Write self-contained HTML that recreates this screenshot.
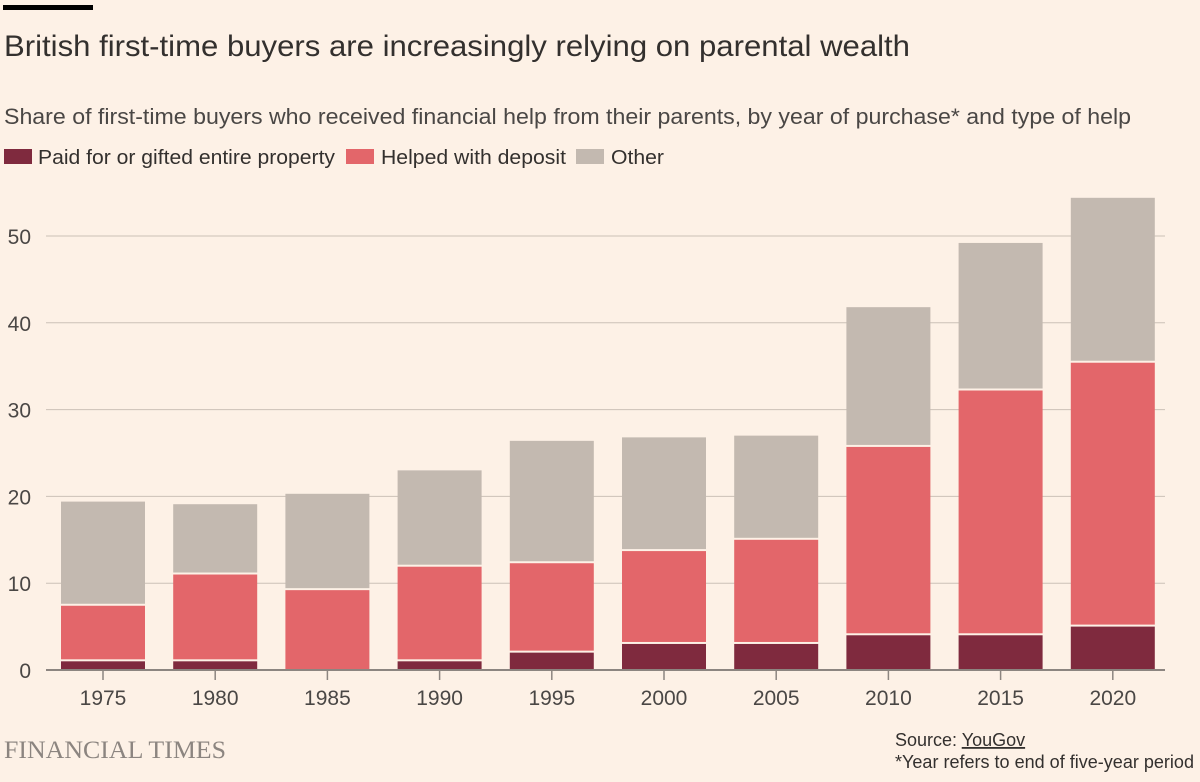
<!DOCTYPE html>
<html><head><meta charset="utf-8"><style>
body{margin:0;background:#fdf1e6;width:1200px;height:777px;overflow:hidden;font-family:"Liberation Sans",sans-serif;color:#33302e}
</style></head><body>
<svg width="1200" height="777" font-family="Liberation Sans, sans-serif">
<rect width="1200" height="777" fill="#fdf1e6"/>
<rect x="3" y="5" width="90" height="5" fill="#000"/>
<text x="4" y="56" font-size="30" fill="#33302e" textLength="906" lengthAdjust="spacingAndGlyphs">British first-time buyers are increasingly relying on parental wealth</text>
<text x="4" y="124" font-size="22" fill="#4a4745" textLength="1127" lengthAdjust="spacingAndGlyphs">Share of first-time buyers who received financial help from their parents, by year of purchase* and type of help</text>
<g font-size="20" fill="#33302e">
<rect x="4" y="149" width="28" height="15" fill="#7f2a3e"/>
<text x="38" y="164" textLength="297" lengthAdjust="spacingAndGlyphs">Paid for or gifted entire property</text>
<rect x="346" y="149" width="28" height="15" fill="#e3666a"/>
<text x="381" y="164" textLength="185" lengthAdjust="spacingAndGlyphs">Helped with deposit</text>
<rect x="576" y="149" width="28" height="15" fill="#c3b9b0"/>
<text x="611" y="164" textLength="53" lengthAdjust="spacingAndGlyphs">Other</text>
</g>
<g id="plot"></g>
<text x="4" y="758" font-family="Liberation Serif, serif" font-size="25" fill="#8c8580" textLength="222" lengthAdjust="spacingAndGlyphs">FINANCIAL TIMES</text>
<text x="895" y="746" font-size="18" fill="#33302e">Source: <tspan text-decoration="underline">YouGov</tspan></text>
<text x="895" y="768" font-size="18" fill="#33302e" textLength="299" lengthAdjust="spacingAndGlyphs">*Year refers to end of five-year period</text>
</svg>
<script>
const years=["1975","1980","1985","1990","1995","2000","2005","2010","2015","2020"];
const entire=[1,1,0,1,2,3,3,4,4,5];
const deposit=[6.4,10,9.2,10.9,10.3,10.7,12,21.7,28.2,30.4];
const other=[12,8.1,11.1,11.1,14.1,13.1,12,16.1,17,19];
const yTicks=[0,10,20,30,40,50];
const NS="http://www.w3.org/2000/svg";
const g=document.getElementById('plot');
const y=v=>670-v*8.68;
const x=i=>103+i*112.2;
const bw=84;
function mk(t,a){const e=document.createElementNS(NS,t);for(const k in a)e.setAttribute(k,a[k]);g.appendChild(e);return e;}
yTicks.forEach(t=>{
  const l=mk('line',{x1:46,x2:1165,y1:y(t),y2:y(t),stroke:t===0?'#8c8580':'#ccc1b7','stroke-width':t===0?2:1});
  
  
  const tx=mk('text',{x:31,y:y(t)+8,'text-anchor':'end','font-size':21,fill:'#4a4745'});
  tx.textContent=t;
  
  
});
const series=[[entire,'#7f2a3e','entire'],[deposit,'#e3666a','deposit'],[other,'#c3b9b0','other']];
years.forEach((yr,i)=>{
  let base=0;
  series.forEach(([arr,col,nm])=>{
    const v=arr[i];
    if(v>0){
      const top=y(base+v), bot=y(base)-(base>0?1:0);
      const r=mk('rect',{x:x(i)-bw/2,y:top,width:bw,height:Math.max(0,bot-top-1),fill:col});
      
      
    }
    base+=v;
  });
  const tk=mk('line',{x1:x(i),x2:x(i),y1:671,y2:680,stroke:'#8c8580','stroke-width':1.5});
  
  
  const t=mk('text',{x:x(i),y:705,'text-anchor':'middle','font-size':21,fill:'#4a4745'});
  t.textContent=yr;
  
  
});
</script>
</body></html>
